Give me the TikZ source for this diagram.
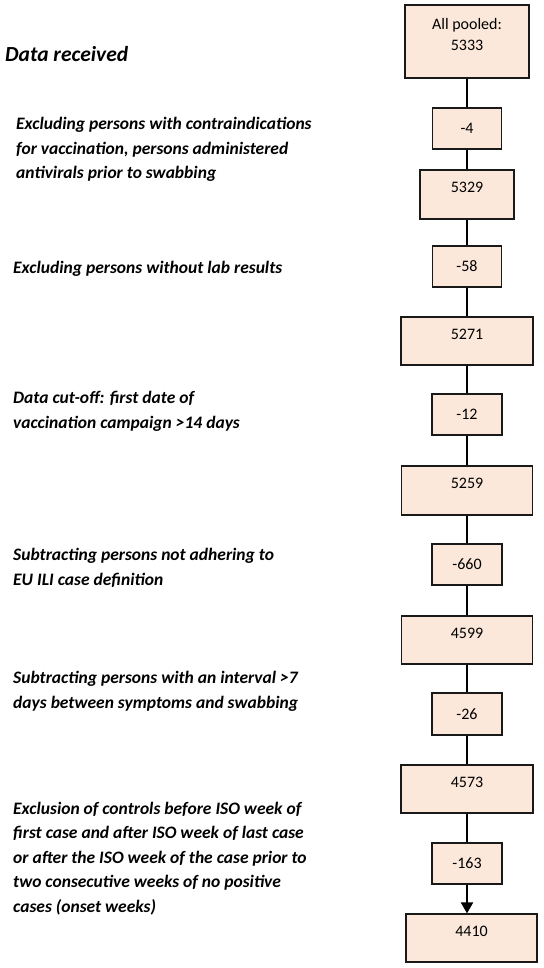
\documentclass[tikz,border=0pt]{standalone}
\usepackage{fontspec}
\setmainfont{Carlito}
\usetikzlibrary{arrows.meta,positioning}
\definecolor{peach}{HTML}{FBE8DA}
\tikzset{
  box/.style={draw=black!90, line width=1.2pt, fill=peach, inner sep=0pt,
    align=center, font=\fontsize{16}{21}\selectfont},
  note/.style={anchor=base west, align=left, inner sep=0pt,
    font=\bfseries\itshape\fontsize{17.5}{24.5}\selectfont},
  link/.style={line width=2pt}
}

\begin{document}
\begin{tikzpicture}[x=1pt,y=-1pt]
\useasboundingbox (0,0) rectangle (543,968);
% counts
\foreach \n/\x/\y/\w/\h/\d/\t in {
    all/467/41.5/124/73/15pt/{All pooled:\\5333},
    m1/467/128.5/69/41/0pt/{-4},
    c1/467/194.5/94/49/14pt/{5329},
    m2/467/266.5/69/41/0pt/{-58},
    c2/467/341/132/48/14pt/{5271},
    m3/467/414.5/70/41/0pt/{-12},
    c3/467/490.5/131/49/14pt/{5259},
    m4/467/564.5/70/41/0pt/{-660},
    c4/467/640/131/48/14pt/{4599},
    m5/467/714/70/42/0pt/{-26},
    c5/467/789/132/48/14pt/{4573},
    m6/467/863.5/70/41/0pt/{-163},
    fin/471.5/938/131/48/14pt/{4410}}
  \node[box, minimum width=\w, minimum height=\h, text depth=\d] (\n) at (\x,\y) {\t};
\foreach \a/\b in {all/m1,m1/c1,c1/m2,m2/c2,c2/m3,m3/c3,c3/m4,m4/c4,c4/m5,m5/c5,c5/m6}
  \draw[link] (\a.south) -- (\a.south |- \b.north);
\draw[link, -{Triangle[width=12pt,length=11pt]}] (m6.south) -- (m6.south |- fin.north);
% steps (placed at the baseline of their last line)
\node[note, font=\bfseries\itshape\fontsize{21.5}{24}\selectfont] (recv) at (5,62) {Data received};
\node[note] (s1) at (16,179) {Excluding persons with contraindications\\for vaccination, persons administered\\antivirals prior to swabbing};
\node[note] (s2) at (13,273) {Excluding persons without lab results};
\node[note] (s3) at (13,428) {Data cut-off: first date of\\vaccination campaign >14 days};
\node[note] (s4) at (13,585) {Subtracting persons not adhering to\\EU ILI case definition};
\node[note] (s5) at (13,708) {Subtracting persons with an interval >7\\days between symptoms and swabbing};
\node[note] (s6) at (13,912) {Exclusion of controls before ISO week of\\first case and after ISO week of last case\\or after the ISO week of the case prior to\\two consecutive weeks of no positive\\cases (onset weeks)};
\end{tikzpicture}
\end{document}
